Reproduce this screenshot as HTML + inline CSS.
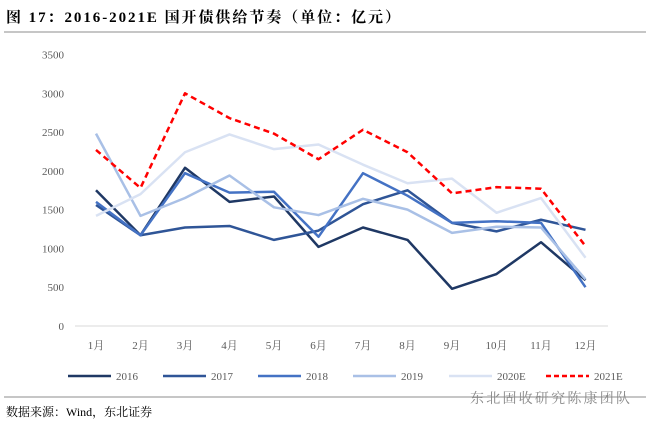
<!DOCTYPE html>
<html><head><meta charset="utf-8"><style>
body{margin:0;background:#fff;width:651px;height:426px;overflow:hidden;font-family:"Liberation Serif","Noto Serif CJK SC",serif}
</style></head><body>
<svg width="651" height="426">
<text x="6" y="22" font-size="15" font-weight="bold" fill="#000" textLength="394" lengthAdjust="spacing">图  17：2016-2021E 国开债供给节奏（单位：亿元）</text>
<line x1="4" y1="32" x2="646" y2="32" stroke="#8c8c8c" stroke-width="1"/>
<g id="axes"></g><g id="series"></g><g id="legend"></g>
<line x1="4" y1="397" x2="646" y2="397" stroke="#8c8c8c" stroke-width="1"/>
<text x="6" y="416" font-size="12" fill="#000">数据来源：Wind，东北证券</text>
<text x="470" y="403" font-size="14" fill="#888" textLength="160" lengthAdjust="spacing">东北固收研究陈康团队</text>
</svg>
<script>
const categories=["1月","2月","3月","4月","5月","6月","7月","8月","9月","10月","11月","12月"];
const yTicks=[0,500,1000,1500,2000,2500,3000,3500];
const seriesNames=["2016","2017","2018","2019","2020E","2021E"];
const s2016=[1750,1170,2040,1600,1670,1020,1270,1110,480,670,1080,590];
const s2017=[1560,1170,1270,1290,1110,1230,1570,1750,1330,1220,1370,1240];
const s2018=[1600,1170,1970,1720,1730,1150,1970,1680,1330,1350,1330,500];
const s2019=[2480,1420,1650,1940,1530,1430,1640,1500,1200,1280,1270,600];
const s2020=[1420,1700,2240,2470,2280,2340,2080,1840,1900,1460,1650,880];
const s2021=[2270,1780,3000,2680,2480,2150,2530,2240,1710,1790,1770,1030];
const allSeries=[s2016,s2017,s2018,s2019,s2020,s2021];
const colors=["#1f3864","#2f5597","#4472c4","#a9c0e6","#d9e2f3","#ff0000"];
const NS="http://www.w3.org/2000/svg";
const x=i=>96+i*44.5, y=v=>326-v*(232.7/3000);
function mk(t,a,p){const e=document.createElementNS(NS,t);for(const k in a)e.setAttribute(k,a[k]);p.appendChild(e);return e;}
const ax=document.getElementById('axes');
yTicks.forEach(t=>{const e=mk('text',{x:64,y:y(t)+4,'text-anchor':'end','font-size':11,fill:'#595959'},ax);e.textContent=t;

});
const base=mk('line',{x1:75,x2:608,y1:326,y2:326,stroke:'#d9d9d9','stroke-width':1},ax);


categories.forEach((c,i)=>{const e=mk('text',{x:x(i),y:349,'text-anchor':'middle','font-size':11,fill:'#595959'},ax);e.textContent=c;

});
const sg=document.getElementById('series');
allSeries.forEach((d,k)=>{const p=mk('polyline',{points:d.map((v,i)=>x(i)+','+y(v)).join(' '),fill:'none',stroke:colors[k],'stroke-width':2.5,'stroke-dasharray':k==5?'6,4':'none','stroke-linejoin':'round'},sg);

});
const lg=document.getElementById('legend');
const lx=[68,163,258,353,449,546];
seriesNames.forEach((n,k)=>{const g=mk('g',{},lg);


mk('line',{x1:lx[k],x2:lx[k]+43,y1:376,y2:376,stroke:colors[k],'stroke-width':2.5,'stroke-dasharray':k==5?'5,3':'none'},g);
const t=mk('text',{x:lx[k]+48,y:380,'font-size':11,fill:'#595959'},g);t.textContent=n;});
</script>
</body></html>
